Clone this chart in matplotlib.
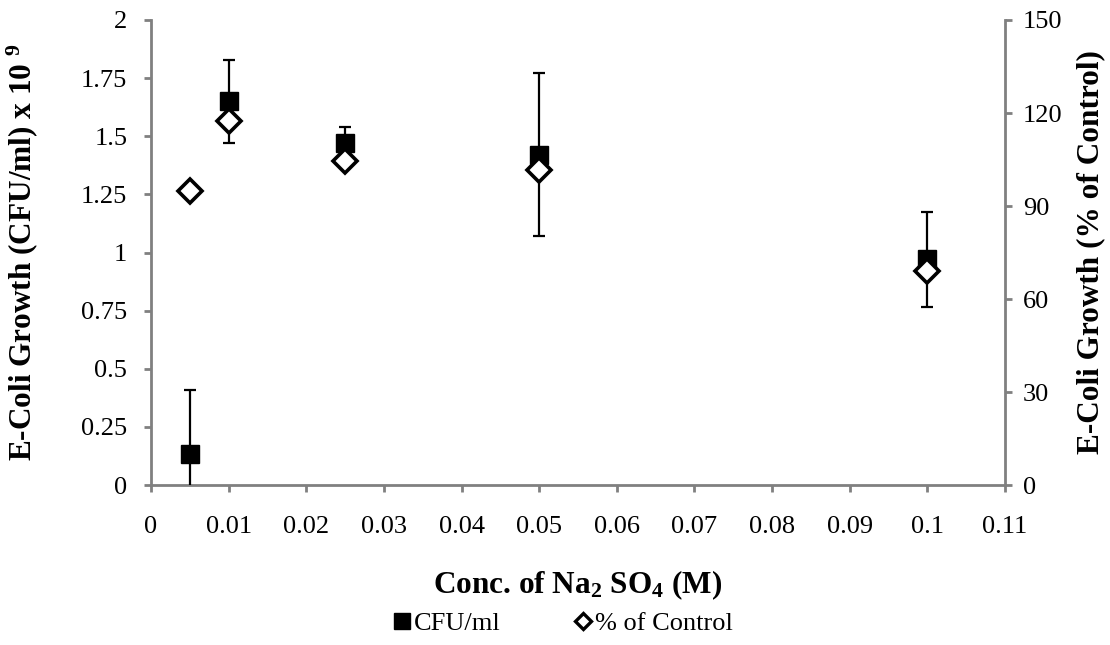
import matplotlib
matplotlib.use("Agg")
import matplotlib.pyplot as plt
from matplotlib.lines import Line2D

plt.rcParams['font.family'] = ['Liberation Serif', 'DejaVu Serif']
plt.rcParams['mathtext.fontset'] = 'custom'
plt.rcParams['mathtext.rm'] = 'Liberation Serif'
plt.rcParams['mathtext.bf'] = 'Liberation Serif:bold'
plt.rcParams['mathtext.it'] = 'Liberation Serif:italic'

conc = [0.005, 0.01, 0.025, 0.05, 0.1]
cfu = [0.135, 1.65, 1.47, 1.42, 0.97]
cfu_err = [0.275, 0.18, 0.07, 0.35, 0.205]
pct_control = [95, 117.5, 104.5, 101.5, 69]

xticks = [0, 0.01, 0.02, 0.03, 0.04, 0.05, 0.06, 0.07, 0.08, 0.09, 0.1, 0.11]
xtick_labels = ['0', '0.01', '0.02', '0.03', '0.04', '0.05', '0.06', '0.07', '0.08', '0.09', '0.1', '0.11']
yticks = [0, 0.25, 0.5, 0.75, 1, 1.25, 1.5, 1.75, 2]
ytick_labels = ['0', '0.25', '0.5', '0.75', '1', '1.25', '1.5', '1.75', '2']
y2ticks = [0, 30, 60, 90, 120, 150]

fig = plt.figure(figsize=(11.1, 6.45), dpi=100)
ax = fig.add_axes([0.136, 0.248, 0.7694, 0.721])
ax2 = ax.twinx()

gray = '#808080'
fs = 19

ax.errorbar(conc, cfu, yerr=cfu_err, fmt='s', color='black', markersize=13.5,
            ecolor='black', elinewidth=1.6, capsize=4.5, capthick=1.6, zorder=3)
ax2.plot(conc, pct_control, linestyle='none', marker='D', markersize=12,
         markerfacecolor='white', markeredgecolor='black', markeredgewidth=2.6, zorder=4)

ax.set_xlim(0, 0.11)
ax.set_ylim(0, 2)
ax2.set_ylim(0, 150)
ax.set_xticks(xticks)
ax.set_xticklabels(xtick_labels, fontsize=fs)
ax.set_yticks(yticks)
ax.set_yticklabels(ytick_labels, fontsize=fs)
ax2.set_yticks(y2ticks)
ax2.set_yticklabels([str(v) for v in y2ticks], fontsize=fs)

for a in (ax, ax2):
    a.spines['top'].set_visible(False)
    a.tick_params(direction='out', color=gray, width=2, length=5)
ax.tick_params(axis='x', pad=17)
ax.tick_params(axis='y', pad=12)
ax2.tick_params(axis='y', pad=8)
ax.spines['right'].set_visible(False)
ax2.spines['left'].set_visible(False)
ax2.spines['bottom'].set_visible(False)
for a, sides in ((ax, ['left', 'bottom']), (ax2, ['right'])):
    for s in sides:
        a.spines[s].set_color(gray)
        a.spines[s].set_linewidth(2)

ax.set_ylabel(r'E-Coli Growth (CFU/ml) x 10 $^{\mathbf{9}}$', fontsize=22.5, fontweight='bold', va='center')
ax.yaxis.set_label_coords(-0.151, 0.5)
ax2.set_ylabel('E-Coli Growth (% of Control)', fontsize=22.5, fontweight='bold', va='center')
ax2.yaxis.set_label_coords(1.1, 0.5)
ax.set_xlabel(r'Conc. of Na$_{\mathbf{2}}$ SO$_{\mathbf{4}}$ (M)', fontsize=22.5, fontweight='bold', va='baseline')
ax.xaxis.set_label_coords(0.5, -0.232)

handles = [Line2D([], [], linestyle='none', marker='s', color='black', markersize=12),
           Line2D([], [], linestyle='none', marker='D', markerfacecolor='white',
                  markeredgecolor='black', markeredgewidth=2.4, markersize=8.5)]
fig.legend(handles, ['CFU/ml', '% of Control'], loc='center', bbox_to_anchor=(0.507, 0.033),
           ncol=2, frameon=False, fontsize=fs, handlelength=0.7, handletextpad=0.1, columnspacing=2.8)

fig.savefig('out.png', dpi=100)
